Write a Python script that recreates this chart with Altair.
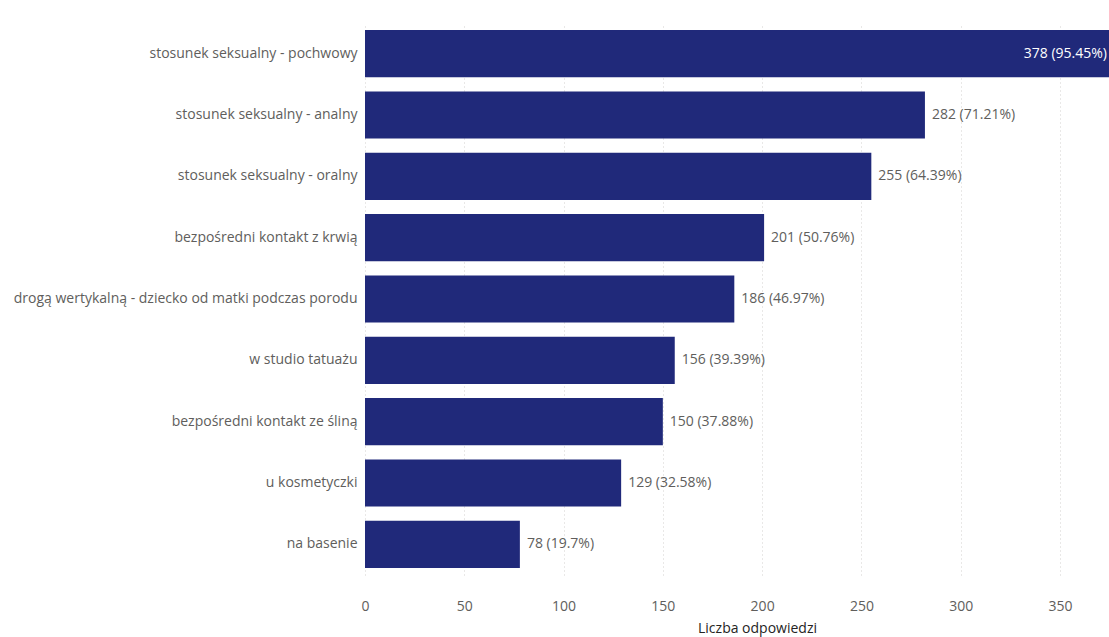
import altair as alt
import pandas as pd

categories = [
    "stosunek seksualny - pochwowy",
    "stosunek seksualny - analny",
    "stosunek seksualny - oralny",
    "bezpośredni kontakt z krwią",
    "drogą wertykalną - dziecko od matki podczas porodu",
    "w studio tatuażu",
    "bezpośredni kontakt ze śliną",
    "u kosmetyczki",
    "na basenie",
]
counts = [378, 282, 255, 201, 186, 156, 150, 129, 78]
percents = ["95.45%", "71.21%", "64.39%", "50.76%", "46.97%", "39.39%", "37.88%", "32.58%", "19.7%"]

df = pd.DataFrame({
    "cat": categories,
    "count": counts,
    "label": [f"{c} ({p})" for c, p in zip(counts, percents)],
})

FONT = "Open Sans"
FS = 14
XMAX = 374.7

base = alt.Chart(df).encode(
    y=alt.Y("cat:N", sort=categories, title=None,
            scale=alt.Scale(paddingInner=0.23, paddingOuter=0.115),
            axis=alt.Axis(ticks=False, domain=False, labelPadding=8,
                          labelFontSize=FS, labelColor="#605E5C",
                          labelFont=FONT, labelLimit=400)),
)

bars = base.mark_bar(color="#20297A", clip=True).encode(
    x=alt.X("count:Q", title="Liczba odpowiedzi",
            scale=alt.Scale(domain=[0, XMAX], nice=False),
            axis=alt.Axis(values=[0, 50, 100, 150, 200, 250, 300, 350],
                          grid=True, gridDash=[1, 3], gridColor="#D2D0CE",
                          ticks=False, domain=False, labelPadding=24,
                          labelFlush=False,
                          labelFontSize=FS, labelColor="#605E5C", labelFont=FONT,
                          titleFontSize=FS, titleColor="#252423", titleFont=FONT,
                          titleFontWeight="normal", titleX=392, titleY=53,
                          titleBaseline="middle")),
)

outside = base.transform_filter(alt.datum.count < 350).mark_text(
    align="left", dx=7, fontSize=FS, color="#605E5C", font=FONT
).encode(x="count:Q", text="label:N")

inside = base.transform_filter(alt.datum.count >= 350).mark_text(
    align="right", dx=-2, fontSize=FS, color="white", font=FONT
).encode(x=alt.value(744), text="label:N")

chart = alt.layer(bars, outside, inside).properties(
    width=744, height=552,
    background="white",
    autosize=alt.AutoSizeParams(type="none"),
    padding={"left": 365, "top": 23, "right": 0, "bottom": 62},
).configure_view(stroke=None)

chart.save("out.html", embed_options={"renderer": "svg", "actions": False})
